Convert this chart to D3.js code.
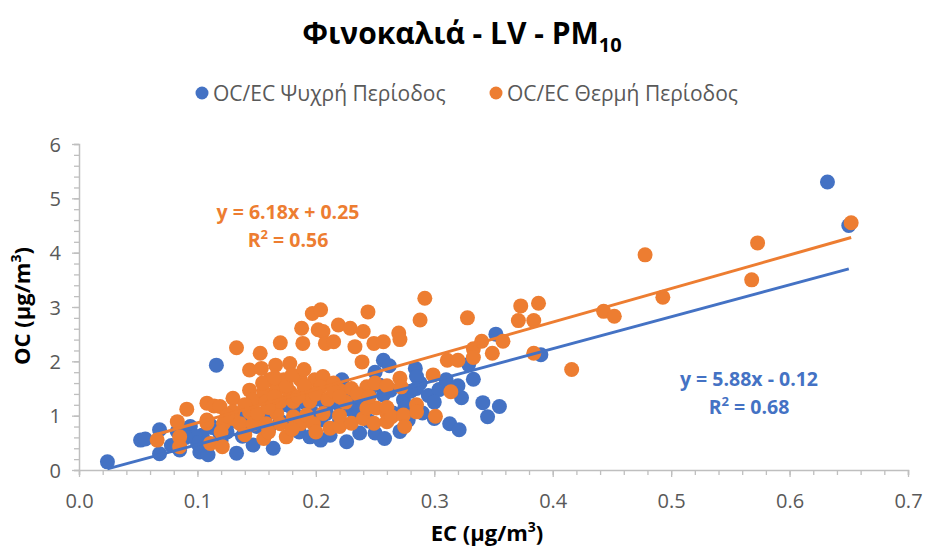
<!DOCTYPE html>
<html>
<head>
<meta charset="utf-8">
<script src="https://cdn.jsdelivr.net/npm/d3@7"></script>
<style>
  html, body { margin: 0; padding: 0; background: #fff; }
  svg { display: block; }
  text { font-family: "Open Sans", "Noto Sans", sans-serif; }
</style>
</head>
<body>
<svg id="chart" width="927" height="550"></svg>
<script>
// Cold period (Ψυχρή Περίοδος): EC vs OC, μg/m³
const coldEC = [0.024, 0.052, 0.056, 0.068, 0.068, 0.083, 0.085, 0.094, 0.102, 0.108, 0.104, 0.109,
  0.116, 0.119, 0.098, 0.113, 0.125, 0.133, 0.138, 0.147, 0.150, 0.164, 0.160, 0.170, 0.181, 0.186,
  0.195, 0.198, 0.204, 0.204, 0.209, 0.209, 0.212, 0.220, 0.222, 0.227, 0.226, 0.232, 0.237, 0.250,
  0.258, 0.254, 0.263, 0.257, 0.257, 0.262, 0.250, 0.271, 0.274, 0.278, 0.284, 0.288, 0.285, 0.285,
  0.275, 0.295, 0.304, 0.310, 0.313, 0.321, 0.323, 0.329, 0.333, 0.341, 0.345, 0.355, 0.352, 0.390,
  0.632, 0.650, 0.130, 0.140, 0.150, 0.165, 0.175, 0.190, 0.200, 0.215, 0.240, 0.245, 0.230, 0.120,
  0.100, 0.090, 0.078, 0.110, 0.140, 0.160, 0.180, 0.220, 0.235, 0.245, 0.265, 0.280, 0.300, 0.290,
  0.320, 0.300];
const coldOC = [0.15, 0.55, 0.57, 0.74, 0.30, 0.71, 0.37, 0.80, 0.33, 0.49, 0.64, 0.28,
  1.93, 0.67, 0.62, 0.78, 0.70, 0.31, 0.62, 0.46, 0.80, 0.40, 0.75, 0.90, 1.10, 0.70,
  0.61, 1.04, 0.92, 0.55, 1.17, 1.04, 0.64, 0.92, 1.66, 1.47, 0.52, 1.29, 0.68, 0.68,
  0.58, 1.56, 1.47, 1.38, 2.02, 1.92, 1.80, 0.71, 1.29, 0.92, 1.87, 1.60, 1.72, 1.50,
  1.14, 1.37, 1.48, 1.66, 0.85, 0.74, 1.33, 1.94, 1.67, 1.24, 0.98, 1.17, 2.50, 2.12,
  5.30, 4.50, 0.90, 1.00, 0.95, 1.10, 1.20, 1.25, 1.30, 1.35, 1.20, 1.45, 1.10, 0.55,
  0.50, 0.60, 0.45, 0.85, 0.70, 1.05, 0.85, 1.20, 1.00, 0.90, 1.05, 1.45, 1.25, 1.05,
  1.55, 0.95];

// Warm period (Θερμή Περίοδος): EC vs OC, μg/m³
const warmEC = [0.066, 0.083, 0.085, 0.085, 0.091, 0.108, 0.108, 0.114, 0.111, 0.121, 0.108, 0.122,
  0.119, 0.130, 0.133, 0.130, 0.136, 0.144, 0.144, 0.144, 0.147, 0.147, 0.151, 0.153, 0.154, 0.156,
  0.156, 0.158, 0.158, 0.161, 0.166, 0.167, 0.167, 0.170, 0.170, 0.170, 0.173, 0.175, 0.178, 0.178,
  0.181, 0.181, 0.187, 0.187, 0.188, 0.189, 0.192, 0.192, 0.195, 0.197, 0.198, 0.199, 0.202, 0.204,
  0.206, 0.206, 0.206, 0.206, 0.204, 0.208, 0.212, 0.215, 0.215, 0.219, 0.220, 0.220, 0.229, 0.230,
  0.233, 0.239, 0.240, 0.240, 0.243, 0.243, 0.244, 0.249, 0.249, 0.251, 0.257, 0.260, 0.260, 0.260,
  0.264, 0.270, 0.271, 0.271, 0.272, 0.274, 0.275, 0.285, 0.285, 0.288, 0.292, 0.299, 0.301, 0.311,
  0.314, 0.320, 0.328, 0.333, 0.333, 0.340, 0.349, 0.358, 0.371, 0.373, 0.384, 0.388, 0.384, 0.416,
  0.443, 0.452, 0.478, 0.493, 0.568, 0.573, 0.652,
  0.130, 0.140, 0.160, 0.165, 0.175, 0.185, 0.190, 0.200, 0.210, 0.225, 0.230, 0.235, 0.245, 0.250,
  0.180, 0.190, 0.215, 0.155, 0.165, 0.125, 0.120, 0.140, 0.160, 0.180, 0.200, 0.220, 0.260, 0.220];
const warmOC = [0.55, 0.89, 0.61, 0.43, 1.12, 1.23, 0.86, 1.18, 0.49, 0.43, 0.92, 0.86,
  1.17, 1.32, 2.25, 1.07, 0.85, 1.84, 1.47, 1.07, 1.29, 0.85, 1.04, 2.15, 1.87, 1.44,
  0.58, 1.26, 0.85, 1.66, 1.93, 1.47, 1.04, 2.34, 1.26, 0.85, 1.66, 0.61, 1.96, 1.44,
  1.26, 0.98, 1.66, 0.85, 2.61, 2.33, 1.47, 1.01, 1.26, 2.88, 0.85, 1.66, 2.58, 2.95,
  1.66, 1.04, 2.55, 1.72, 1.53, 2.33, 0.77, 2.36, 1.60, 2.67, 1.47, 0.80, 2.61, 0.86,
  2.27, 1.99, 2.55, 0.95, 1.53, 1.14, 2.91, 2.33, 0.86, 1.14, 2.36, 1.04, 1.15, 0.89,
  0.98, 2.52, 1.69, 2.40, 1.53, 1.01, 0.80, 1.20, 1.07, 2.76, 3.16, 1.75, 0.99, 2.02,
  1.44, 2.02, 2.80, 2.23, 2.07, 2.37, 2.15, 2.37, 2.75, 3.02, 2.75, 3.07, 2.15, 1.85,
  2.92, 2.83, 3.96, 3.18, 3.50, 4.18, 4.55,
  0.95, 1.20, 1.15, 1.35, 1.55, 1.35, 1.55, 1.40, 1.30, 1.25, 1.50, 1.40, 1.35, 1.60,
  1.75, 1.85, 1.45, 1.60, 1.70, 1.00, 0.70, 0.65, 0.70, 0.75, 0.70, 1.00, 1.55, 1.35];

// Series definitions and linear trendlines (y = slope·x + intercept)
const seriesNames = ["OC/EC Ψυχρή Περίοδος", "OC/EC Θερμή Περίοδος"];
const seriesColors = ["#4472C4", "#ED7D31"];
const trendSlope = [5.88, 6.18];
const trendIntercept = [-0.12, 0.25];
const trendR2 = [0.68, 0.56];

// Axis ticks
const xTicks = [0.0, 0.1, 0.2, 0.3, 0.4, 0.5, 0.6, 0.7];
const yTicks = [0, 1, 2, 3, 4, 5, 6];

const svg = d3.select("#chart");
const plot = { left: 79, right: 908, top: 144, bottom: 470 };

const x = d3.scaleLinear().domain([0, 0.7]).range([plot.left, plot.right]);
const y = d3.scaleLinear().domain([0, 6]).range([plot.bottom, plot.top]);

const axisColor = "#BFBFBF";
const labelColor = "#595959";

// Title
const title = svg.append("text")
  .attr("x", 462).attr("y", 44)
  .attr("text-anchor", "middle")
  .style("font-size", "30px").style("font-weight", "bold").style("fill", "#000");
title.append("tspan").text("Φινοκαλιά - LV - PM");
title.append("tspan").attr("dy", 8).style("font-size", "20px").text("10");

// Legend
const legend = svg.append("g");
const legendItems = [
  { name: seriesNames[0], color: seriesColors[0], cx: 202, tx: 213 },
  { name: seriesNames[1], color: seriesColors[1], cx: 496, tx: 507 }
];
legendItems.forEach(d => {
  legend.append("circle").attr("cx", d.cx).attr("cy", 93).attr("r", 6.5).attr("fill", d.color);
  legend.append("text").attr("x", d.tx).attr("y", 100.5)
    .style("font-size", "21px").style("fill", labelColor).text(d.name);
});

// Minor ticks
const xMinor = d3.range(0, 0.7001, 0.02);
const yMinor = d3.range(0, 6.001, 0.2);

const gx = svg.append("g").attr("transform", `translate(0,${plot.bottom})`)
  .call(d3.axisBottom(x).tickValues(xMinor).tickSize(5).tickFormat(""));
const gy = svg.append("g").attr("transform", `translate(${plot.left},0)`)
  .call(d3.axisLeft(y).tickValues(yMinor).tickSize(5).tickFormat(""));
[gx, gy].forEach(g => {
  g.select(".domain").attr("stroke", axisColor).attr("stroke-width", 1.5);
  g.selectAll(".tick line").attr("stroke", axisColor).attr("stroke-width", 1.3);
});

const gxLab = svg.append("g").attr("transform", `translate(0,${plot.bottom})`)
  .call(d3.axisBottom(x).tickValues(xTicks).tickSize(7).tickPadding(17).tickFormat(d3.format(".1f")));
const gyLab = svg.append("g").attr("transform", `translate(${plot.left},0)`)
  .call(d3.axisLeft(y).tickValues(yTicks).tickSize(7).tickPadding(11).tickFormat(d3.format("d")));
[gxLab, gyLab].forEach(g => {
  g.select(".domain").remove();
  g.selectAll(".tick line").attr("stroke", axisColor).attr("stroke-width", 1.3);
  g.selectAll(".tick text").style("font-size", "20px").style("fill", labelColor)
    .style("font-family", "'Open Sans', sans-serif");
});
gyLab.selectAll(".tick text").attr("dy", "0.36em");

// Axis titles
const xTitle = svg.append("text").attr("x", 487).attr("y", 541)
  .attr("text-anchor", "middle").style("font-size", "22px").style("font-weight", "bold");
xTitle.append("tspan").text("EC (μg/m");
xTitle.append("tspan").attr("dy", -9).style("font-size", "14px").text("3");
xTitle.append("tspan").attr("dy", 9).text(")");

const yTitle = svg.append("text")
  .attr("transform", "translate(30,306) rotate(-90)")
  .attr("text-anchor", "middle").style("font-size", "22px").style("font-weight", "bold");
yTitle.append("tspan").text("OC (μg/m");
yTitle.append("tspan").attr("dy", -9).style("font-size", "14px").text("3");
yTitle.append("tspan").attr("dy", 9).text(")");

// Scatter points: cold series first, warm series on top
const series = [
  d3.zip(coldEC, coldOC),
  d3.zip(warmEC, warmOC)
];
series.forEach((pts, i) => {
  svg.append("g").selectAll("circle").data(pts).join("circle")
    .attr("cx", d => x(d[0])).attr("cy", d => y(d[1]))
    .attr("r", 7.5).attr("fill", seriesColors[i]);
});

// Trendlines over the points
series.forEach((pts, i) => {
  const [x0, x1] = d3.extent(pts, d => d[0]);
  const f = v => trendSlope[i] * v + trendIntercept[i];
  svg.append("line")
    .attr("x1", x(x0)).attr("y1", y(f(x0)))
    .attr("x2", x(x1)).attr("y2", y(f(x1)))
    .attr("stroke", seriesColors[i]).attr("stroke-width", 3);
});

// Trendline equations
const eqPos = [{ cx: 749, cy: 386 }, { cx: 288, cy: 219 }];
const fmt = d3.format(".2f");
eqPos.forEach((p, i) => {
  const sign = trendIntercept[i] < 0 ? "-" : "+";
  const g = svg.append("g").style("fill", seriesColors[i])
    .style("font-size", "19.5px").style("font-weight", "bold");
  g.append("text").attr("x", p.cx).attr("y", p.cy).attr("text-anchor", "middle")
    .text(`y = ${fmt(trendSlope[i])}x ${sign} ${fmt(Math.abs(trendIntercept[i]))}`);
  const r = g.append("text").attr("x", p.cx).attr("y", p.cy + 28).attr("text-anchor", "middle");
  r.append("tspan").text("R");
  r.append("tspan").attr("dy", -8).style("font-size", "13px").text("2");
  r.append("tspan").attr("dy", 8).text(` = ${fmt(trendR2[i])}`);
});
</script>
</body>
</html>
